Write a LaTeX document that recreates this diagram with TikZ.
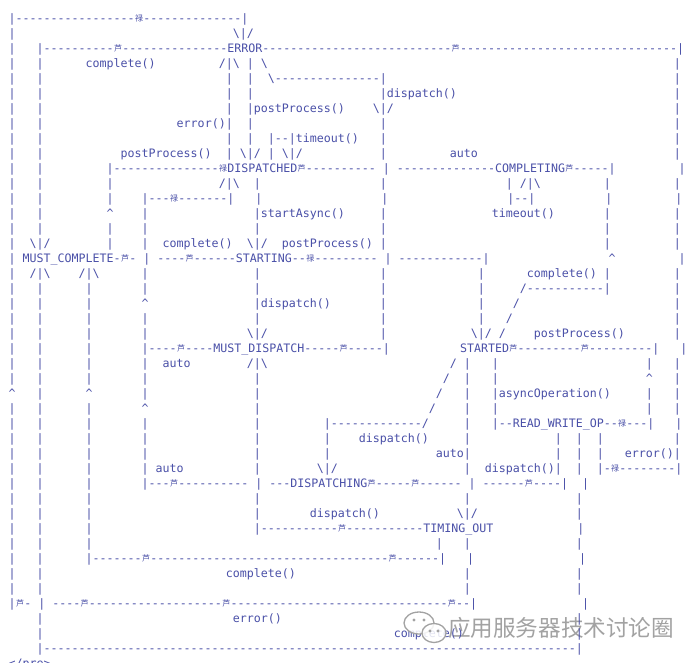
\documentclass[tikz,border=0pt]{standalone}
\usepackage{fontspec}
\setmonofont{DejaVu Sans Mono}
\newfontfamily\cjkfont{Noto Sans CJK SC}
\definecolor{cink}{HTML}{4A50A8}
\definecolor{cwater}{HTML}{A2A2A2}
\newcommand\bs{\textbackslash}
\newcommand\ct{\textasciicircum}
\newcommand\sk[1]{\hspace*{#1\fontdimen2\font}}
\ExplSyntaxOn
\cs_new:Npn \dl #1 { \prg_replicate:nn {#1} { - } }
\ExplSyntaxOff
\newcommand\fwd{\makebox[8.6pt]{\raisebox{0.6pt}{\cjkfont\fontsize{8}{8}\selectfont 禄}}}
\newcommand\bwd{\makebox[8.6pt]{\raisebox{0.6pt}{\cjkfont\fontsize{8}{8}\selectfont 芦}}}
\tikzset{
  ln/.style={anchor=base west, inner sep=0pt, text=cink, font=\ttfamily\fontsize{11.63}{15}\selectfont},
  wmtext/.style={inner sep=0pt, text=cwater, font=\cjkfont\fontsize{22.6}{22.6}\selectfont},
  wmlogo/.style={draw=cwater, fill=white, fill opacity=0.85, line width=1.3pt},
}

\begin{document}
\begin{tikzpicture}[x=1pt, y=-1pt]
  \useasboundingbox (0,0) rectangle (698,663);
  \fill[white] (0,0) rectangle (698,663);
  % watermark behind the chart
  \node[wmtext] (wm) at (561,628) {应用服务器技术讨论圈};
  % the chart, one text row per line
  \foreach \row [count=\k] in {
    {|\dl{17}\fwd\dl{14}|},
    {|\sk{31}\bs|/},
    {|\sk{3}|\dl{10}\bwd\dl{15}ERROR\dl{27}\bwd\dl{31}|},
    {|\sk{3}|\sk{6}complete()\sk{9}/|\bs~|~\bs\sk{58}|},
    {|\sk{3}|\sk{26}|\sk{2}|\sk{2}\bs\dl{15}|\sk{41}|},
    {|\sk{3}|\sk{26}|\sk{2}|\sk{18}|dispatch()\sk{31}|},
    {|\sk{3}|\sk{26}|\sk{2}|postProcess()\sk{4}\bs|/\sk{40}|},
    {|\sk{3}|\sk{19}error()|\sk{2}|\sk{18}|\sk{41}|},
    {|\sk{3}|\sk{26}|\sk{2}|\sk{2}|--|timeout()\sk{3}|\sk{41}|},
    {|\sk{3}|\sk{11}postProcess()\sk{2}|~\bs|/~|~\bs|/\sk{11}|\sk{9}auto\sk{28}|},
    {|\sk{3}|\sk{9}|\dl{15}\fwd DISPATCHED\bwd\dl{10}~|~\dl{14}COMPLETING\bwd\dl{5}|\sk{9}|},
    {|\sk{3}|\sk{9}|\sk{15}/|\bs\sk{2}|\sk{17}|\sk{17}|~/|\bs\sk{9}|\sk{9}|},
    {|\sk{3}|\sk{9}|\sk{4}|\dl{3}\fwd\dl{7}|\sk{3}|\sk{17}|\sk{17}|--|\sk{10}|\sk{9}|},
    {|\sk{3}|\sk{9}\ct\sk{4}|\sk{15}|startAsync()\sk{5}|\sk{15}timeout()\sk{7}|\sk{9}|},
    {|\sk{3}|\sk{9}|\sk{4}|\sk{15}|\sk{17}|\sk{31}|\sk{9}|},
    {|\sk{2}\bs|/\sk{8}|\sk{4}|\sk{2}complete()\sk{2}\bs|/\sk{2}postProcess()~|\sk{31}|\sk{9}|},
    {|~MUST\_COMPLETE-\bwd-~|~\dl{4}\bwd\dl{6}STARTING--\fwd\dl{9}~|~\dl{12}|\sk{17}\ct\sk{9}|},
    {|\sk{2}/|\bs\sk{4}/|\bs\sk{6}|\sk{15}|\sk{17}|\sk{13}|\sk{6}complete()~|\sk{9}|},
    {|\sk{3}|\sk{6}|\sk{7}|\sk{15}|\sk{17}|\sk{13}|\sk{5}/\dl{11}|\sk{9}|},
    {|\sk{3}|\sk{6}|\sk{7}\ct\sk{15}|dispatch()\sk{7}|\sk{13}|\sk{4}/\sk{22}|},
    {|\sk{3}|\sk{6}|\sk{7}|\sk{15}|\sk{17}|\sk{13}|\sk{3}/\sk{23}|},
    {|\sk{3}|\sk{6}|\sk{7}|\sk{14}\bs|/\sk{16}|\sk{12}\bs|/~/\sk{4}postProcess()\sk{7}|},
    {|\sk{3}|\sk{6}|\sk{7}|\dl{4}\bwd\dl{4}MUST\_DISPATCH\dl{5}\bwd\dl{5}|\sk{10}STARTED\bwd\dl{9}\bwd\dl{9}|\sk{3}|},
    {|\sk{3}|\sk{6}|\sk{7}|\sk{2}auto\sk{8}/|\bs\sk{26}/~|\sk{3}|\sk{21}|\sk{3}|},
    {|\sk{3}|\sk{6}|\sk{7}|\sk{15}|\sk{26}/\sk{2}|\sk{3}|\sk{21}\ct\sk{3}|},
    {\ct\sk{3}|\sk{6}\ct\sk{7}|\sk{15}|\sk{25}/\sk{3}|\sk{3}|asyncOperation()\sk{5}|\sk{3}|},
    {|\sk{3}|\sk{6}|\sk{7}\ct\sk{15}|\sk{24}/\sk{4}|\sk{3}|\sk{21}|\sk{3}|},
    {|\sk{3}|\sk{6}|\sk{7}|\sk{15}|\sk{9}|\dl{13}/\sk{5}|\sk{3}|--READ\_WRITE\_OP--\fwd\dl{3}|\sk{3}|},
    {|\sk{3}|\sk{6}|\sk{7}|\sk{15}|\sk{9}|\sk{4}dispatch()\sk{5}|\sk{12}|\sk{2}|\sk{2}|\sk{10}|},
    {|\sk{3}|\sk{6}|\sk{7}|\sk{15}|\sk{9}|\sk{15}auto|\sk{12}|\sk{2}|\sk{2}|\sk{3}error()|},
    {|\sk{3}|\sk{6}|\sk{7}|~auto\sk{10}|\sk{8}\bs|/\sk{18}|\sk{2}dispatch()|\sk{2}|\sk{2}|-\fwd\dl{8}|},
    {|\sk{3}|\sk{6}|\sk{7}|\dl{3}\bwd\dl{10}~|~\dl{3}DISPATCHING\bwd\dl{5}\bwd\dl{6}~|~\dl{6}\bwd\dl{4}|\sk{2}|},
    {|\sk{3}|\sk{6}|\sk{23}|\sk{29}|\sk{15}|},
    {|\sk{3}|\sk{6}|\sk{23}|\sk{7}dispatch()\sk{11}\bs|/\sk{14}|},
    {|\sk{3}|\sk{6}|\sk{23}|\dl{11}\bwd\dl{11}TIMING\_OUT\sk{12}|},
    {|\sk{3}|\sk{6}|\sk{49}|\sk{3}|\sk{15}|},
    {|\sk{3}|\sk{6}|\dl{7}\bwd\dl{34}\bwd\dl{6}|\sk{3}|\sk{15}|},
    {|\sk{3}|\sk{26}complete()\sk{24}|\sk{15}|},
    {|\sk{3}|\sk{60}|\sk{15}|},
    {|\bwd-~|~\dl{4}\bwd\dl{19}\bwd\dl{31}\bwd--|\sk{15}|},
    {\sk{4}|\sk{27}error()\sk{42}|},
    {\sk{4}|\sk{50}complete()\sk{16}|},
    {\sk{4}|\dl{76}|},
    {</pre>}}
    \node[ln] (l\k) at (8.5, {7.5+15*\k}) {\row};
  % logo of the watermark
  \draw[wmlogo] (419,623) ellipse [x radius=15, y radius=11];
  \draw[wmlogo] (434,633) ellipse [x radius=12, y radius=9.5];
  \foreach \ex/\ey in {414/620, 424/620, 430/631, 438/631}
    \fill[cwater] (\ex,\ey) circle (1.6);
\end{tikzpicture}
\end{document}
